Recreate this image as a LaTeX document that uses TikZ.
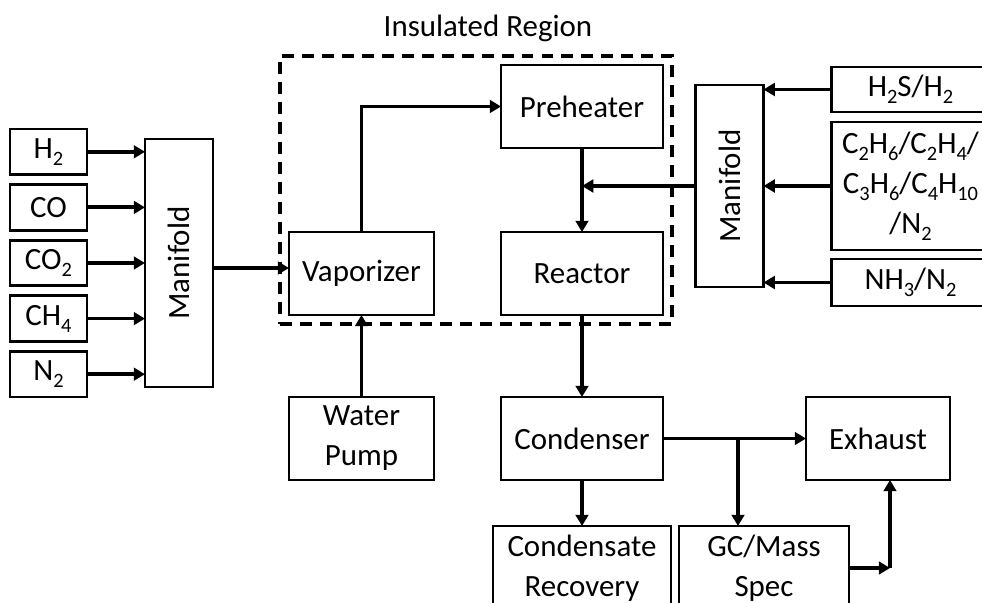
\documentclass[tikz,border=0pt]{standalone}
\usepackage{fontspec}
\setmainfont{Carlito}
\usepackage{tikz}
\usetikzlibrary{arrows.meta,positioning,fit}

% lowered chemical index
\newcommand{\gsub}[1]{\raisebox{-5pt}{\fontsize{14.5}{14.5}\selectfont #1}}

\begin{document}
\begin{tikzpicture}[
    node distance = 0.25cm,
    box/.style      = {rectangle, draw=black, line width=2.1pt, fill=white,
                       minimum width=4.05cm, minimum height=2.075cm,
                       align=center, outer sep=0pt, inner sep=1pt},
    gas/.style      = {box, minimum width=1.925cm, minimum height=1.14cm},
    manifold/.style = {box, minimum width=1.7cm},
    feed/.style     = {box, minimum width=3.95cm},
    arrow/.style    = {-{Triangle[length=8pt,width=9pt]}, line width=2.7pt},
    region/.style   = {draw=black, line width=2.9pt,
                       dash pattern=on 8.5pt off 5.7pt, inner sep=0.225cm},
    font=\fontsize{22}{28.5}\selectfont
]
\path[use as bounding box, clip] (0,0) rectangle (24.55,-15.075);

% Left gas supply
\node[manifold, minimum height=6.2cm] (lman) at (4.475,-6.575)
                                      {\rotatebox{90}{Manifold}};
\node[gas, left=1.45cm of lman] (co2) {CO\gsub{2}};
\node[gas, above=of co2]        (co)  {CO};
\node[gas, above=of co]         (h2)  {H\gsub{2}};
\node[gas, below=of co2]        (ch4) {CH\gsub{4}};
\node[gas, below=of ch4]        (n2)  {N\gsub{2}};

% Insulated section
\node[box, minimum width=3.625cm] (vap) at (9.0375,-6.8375) {Vaporizer};
\node[box, right=1.675cm of vap]  (reac) {Reactor};
\node[box, above=2.1cm of reac]   (pre)  {Preheater};
\node[region, fit=(vap)(pre)(reac)] (ins) {};
\node[above=0.3cm of ins, xshift=0.3cm, inner sep=0pt] (title)
                                         {Insulated Region};

% Water and product side
\node[box, minimum width=3.625cm, below=2.05cm of vap] (pump) {Water\\Pump};
\node[box, below=2.05cm of reac]                       (cond) {Condenser};
\node[box, minimum width=3.6cm, right=3.575cm of cond] (exh)  {Exhaust};
\node[box, minimum width=4.45cm, minimum height=2.1cm,
      below=1.15cm of cond]                            (rec)  {Condensate\\Recovery};
\node[box, minimum width=4.25cm, minimum height=2.1cm,
      right=0.2cm of rec]                              (gc)   {GC/Mass\\Spec};

% Right gas supply
\node[manifold, minimum height=5.05cm] (rman) at (18.2375,-4.65)
                                       {\rotatebox{90}{Manifold}};
\node[feed, minimum height=3.2cm, right=1.7cm of rman] (mix)
      {C\gsub{2}H\gsub{6}/C\gsub{2}H\gsub{4}/\\
       C\gsub{3}H\gsub{6}/C\gsub{4}H\gsub{10}\\
       /N\gsub{2}};
\node[feed, minimum height=1.125cm, above=of mix]         (h2s)
      {H\gsub{2}S/H\gsub{2}};
\node[feed, minimum height=1.175cm, below=0.225cm of mix] (nh3)
      {NH\gsub{3}/N\gsub{2}};

\coordinate (bend) at ([xshift=0.3cm]exh.south |- gc.east);

% Arrows
\draw[arrow] (h2.east)  -- (h2.east -| lman.west);
\draw[arrow] (co.east)  -- (co.east -| lman.west);
\draw[arrow] (co2.east) -- (co2.east -| lman.west);
\draw[arrow] (ch4.east) -- (ch4.east -| lman.west);
\draw[arrow] (n2.east)  -- (n2.east -| lman.west);
\draw[arrow] ([yshift=-0.125cm]lman.east) -- ([yshift=-0.125cm]lman.east -| vap.west);
\draw[arrow] (vap.north) |- (pre.west);
\draw[arrow] (pre) -- (reac);
\draw[arrow] (h2s.west) -- (h2s.west -| rman.east);
\draw[arrow] (mix.west) -- (mix.west -| rman.east);
\draw[arrow] (nh3.west) -- (nh3.west -| rman.east);
\draw[arrow] (rman.west) -- (rman.west -| reac.north);
\draw[arrow] (pump) -- (vap);
\draw[arrow] (reac) -- (cond);
\draw[arrow] (cond.east) -- (exh.west);
\draw[arrow] ([xshift=-0.65cm]gc.north |- cond.east) -- ([xshift=-0.65cm]gc.north);
\draw[arrow] (cond) -- (rec);
\draw[arrow] (gc.east) -- (bend);
\draw[arrow] (bend) -- (bend |- exh.south);

\end{tikzpicture}
\end{document}
